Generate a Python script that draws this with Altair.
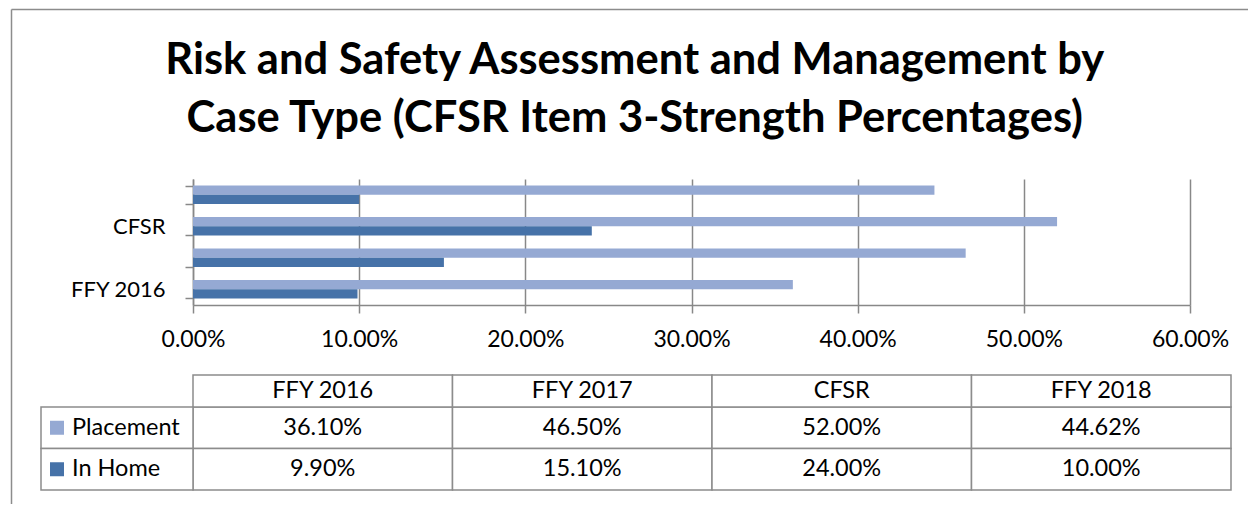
import json
import altair as alt
import pandas as pd

# ---- data ----
categories = ["FFY 2016", "FFY 2017", "CFSR", "FFY 2018"]
series_names = ["Placement", "In Home"]
placement = [0.3610, 0.4650, 0.5200, 0.4462]
in_home = [0.0990, 0.1510, 0.2400, 0.1000]
x_ticks = [0.0, 0.1, 0.2, 0.3, 0.4, 0.5, 0.6]
title_lines = [
    "Risk and Safety Assessment and Management by",
    "Case Type (CFSR Item 3-Strength Percentages)",
]
series_colors = ["#95A9D3", "#4672A8"]

FONT = "Lato"
GRAY = "#888888"
BORDER = "#8c8c8c"

rows = []
for i, c in enumerate(categories):
    for s, vals in zip(series_names, [placement, in_home]):
        rows.append({"cat": c, "series": s, "value": vals[i],
                     "label": f"{vals[i] * 100:.2f}%"})
df = pd.DataFrame(rows)
shown = categories[::2]  # Excel shows every other category label
label_expr = "indexof(" + json.dumps(shown) + ", datum.value) >= 0 ? datum.label : ''"

color = alt.Color("series:N", scale=alt.Scale(domain=series_names, range=series_colors),
                  legend=None)

# ---- bar chart ----
bars = alt.Chart(df).mark_bar().encode(
    x=alt.X("value:Q",
            scale=alt.Scale(domain=[0, 0.6], nice=False, zero=True),
            axis=alt.Axis(values=x_ticks, format=".2%", title=None, grid=True,
                          gridColor=GRAY, gridWidth=1.5, domainColor=GRAY, domainWidth=1.5,
                          tickColor=GRAY, tickWidth=1.5, tickSize=8,
                          labelFont=FONT, labelFontSize=23, labelColor="black",
                          labelPadding=15, labelFlush=False, labelOverlap=False)),
    y=alt.Y("cat:N", sort=categories[::-1],
            scale=alt.Scale(paddingInner=0.42, paddingOuter=0.21),
            axis=alt.Axis(title=None, tickBand="extent", grid=False,
                          domainColor=GRAY, domainWidth=1.5,
                          tickColor=GRAY, tickWidth=1.5, tickSize=8,
                          labelFont=FONT, labelFontSize=22, labelColor="black",
                          labelPadding=20, labelExpr=label_expr)),
    yOffset=alt.YOffset("series:N", sort=series_names,
                        scale=alt.Scale(paddingInner=0, paddingOuter=0)),
    color=color,
)

frame_df = pd.DataFrame({"k": [0]})
frame_left = alt.Chart(frame_df).mark_rule(color=BORDER, strokeWidth=1.5).encode(
    x=alt.value(-181.5), y=alt.value(-169.5), y2=alt.value(325))
frame_top = alt.Chart(frame_df).mark_rule(color=BORDER, strokeWidth=1.5).encode(
    x=alt.value(-181.5), x2=alt.value(1055), y=alt.value(-169.5))

bar_chart = alt.layer(bars, frame_left, frame_top).properties(width=997, height=126)

# ---- data table ----
TFS = 23.5
tx = alt.X("cat:N", sort=categories, scale=alt.Scale(paddingInner=0, paddingOuter=0), axis=None)
ty = alt.Y("series:N", sort=series_names, scale=alt.Scale(paddingInner=0, paddingOuter=0), axis=None)

cells = alt.Chart(df).mark_rect(fill="white", stroke=BORDER, strokeWidth=1.5).encode(x=tx, y=ty)
cell_text = alt.Chart(df).mark_text(font=FONT, fontSize=TFS, color="black").encode(
    x=tx, y=ty, text="label:N")

hdr_df = pd.DataFrame({"cat": categories})
hdr_cells = alt.Chart(hdr_df).mark_rect(fill="white", stroke=BORDER, strokeWidth=1.5).encode(
    x=tx, y=alt.value(-32), y2=alt.value(0))
hdr_text = alt.Chart(hdr_df).mark_text(font=FONT, fontSize=TFS, color="black").encode(
    x=tx, y=alt.value(-16), text="cat:N")

leg_df = pd.DataFrame({"series": series_names})
leg_cells = alt.Chart(leg_df).mark_rect(fill="white", stroke=BORDER, strokeWidth=1.5).encode(
    x=alt.value(-152), x2=alt.value(0), y=ty)
leg_sq = alt.Chart(leg_df).mark_square(size=196, opacity=1).encode(
    x=alt.value(-136), y=ty, color=color)
leg_text = alt.Chart(leg_df).mark_text(font=FONT, fontSize=TFS, color="black", align="left").encode(
    x=alt.value(-121), y=ty, text="series:N")

table = alt.layer(cells, cell_text, hdr_cells, hdr_text, leg_cells, leg_sq, leg_text).properties(
    width=1038, height=83)

chart = alt.vconcat(bar_chart, table, spacing=102, bounds="flush").resolve_scale(
    x="independent", y="independent"
).properties(
    title=alt.TitleParams(text=title_lines, font=FONT, fontSize=43.5, fontWeight="bold",
                          color="black", anchor="middle", frame="bounds",
                          offset=-132.8, lineHeight=58.5, dx=5),
    padding={"left": 2, "top": 0, "right": 0, "bottom": 0},
).configure_view(stroke=None)

chart.save("out.html", embed_options={"renderer": "svg", "actions": False})
